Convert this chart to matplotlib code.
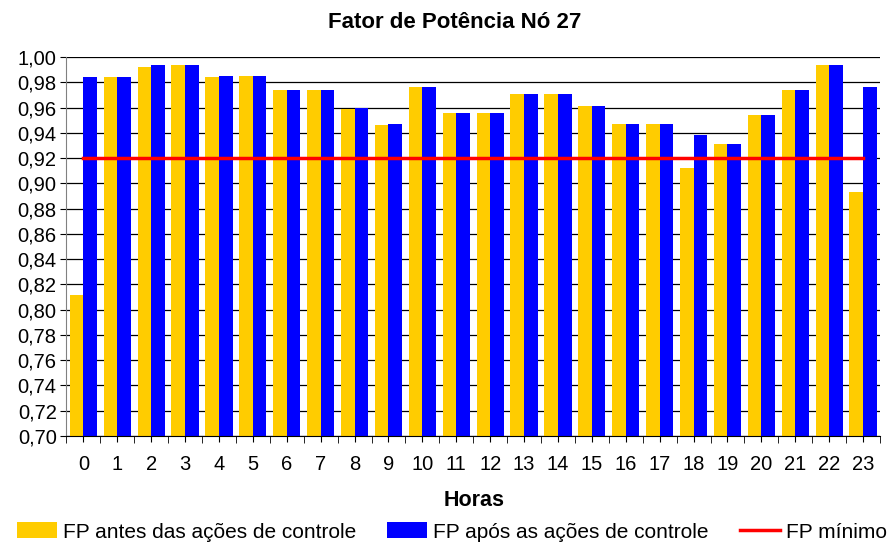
import numpy as np
import matplotlib.pyplot as plt

horas = list(range(24))
fp_antes = [0.812, 0.984, 0.992, 0.994, 0.984, 0.985, 0.974, 0.974, 0.959, 0.946,
            0.976, 0.956, 0.956, 0.971, 0.971, 0.961, 0.947, 0.947, 0.912, 0.931,
            0.954, 0.974, 0.994, 0.893]
fp_apos = [0.984, 0.984, 0.994, 0.994, 0.985, 0.985, 0.974, 0.974, 0.960, 0.947,
           0.976, 0.956, 0.956, 0.971, 0.971, 0.961, 0.947, 0.947, 0.938, 0.931,
           0.954, 0.974, 0.994, 0.976]
fp_minimo = 0.92
yticks = [0.70 + 0.02 * i for i in range(16)]

plt.rcParams['font.family'] = ['Liberation Sans', 'DejaVu Sans']

fig = plt.figure(figsize=(8.88, 5.44), dpi=100)
ax = fig.add_axes([66.4 / 888, 1 - 436 / 544, (880 - 66.4) / 888, (436 - 57) / 544])

x = np.arange(len(horas))
w = 0.4
b1 = ax.bar(x - w / 2, fp_antes, w, color='#FFCC00', label='FP antes das ações de controle', zorder=2)
b2 = ax.bar(x + w / 2, fp_apos, w, color='#0000FF', label='FP após as ações de controle', zorder=2)
l1, = ax.plot(x, [fp_minimo] * len(x), color='#FF0000', lw=2.5, label='FP mínimo', zorder=3)

ax.set_xlim(-0.5, 23.5)
ax.set_ylim(0.70, 1.00)
ax.set_yticks(yticks)
ax.set_yticklabels([f'{v:.2f}'.replace('.', ',') for v in yticks], fontsize=14.5)
ax.yaxis.grid(True, color='black', lw=0.9)
ax.set_axisbelow(True)

ax.set_xticks(x)
ax.set_xticklabels([str(h) for h in horas], fontsize=14.5)
ax.set_xticks(np.arange(-0.5, 24, 1), minor=True)
ax.tick_params(axis='x', which='major', length=4, color='black', pad=10)
ax.tick_params(axis='x', which='minor', length=5, color='black')
ax.tick_params(axis='y', length=4, color='black', pad=3)

for s in ['top', 'right']:
    ax.spines[s].set_visible(False)
ax.spines['left'].set_color('#808080')
ax.spines['bottom'].set_color('black')

fig.text(455 / 888, 1 - 23 / 544, 'Fator de Potência Nó 27', ha='center', va='center',
         fontsize=16, fontweight='bold')
fig.text(474 / 888, 1 - 500 / 544, 'Horas', ha='center', va='center',
         fontsize=15.5, fontweight='bold')

fig.legend(handles=[b1, b2, l1], loc='center', bbox_to_anchor=(452 / 888, 1 - 532 / 544),
           ncol=3, frameon=False, fontsize=15, handlelength=1.9, handleheight=0.8,
           columnspacing=1.5, handletextpad=0.3, borderpad=0.1)

fig.savefig('out.png', dpi=100)
